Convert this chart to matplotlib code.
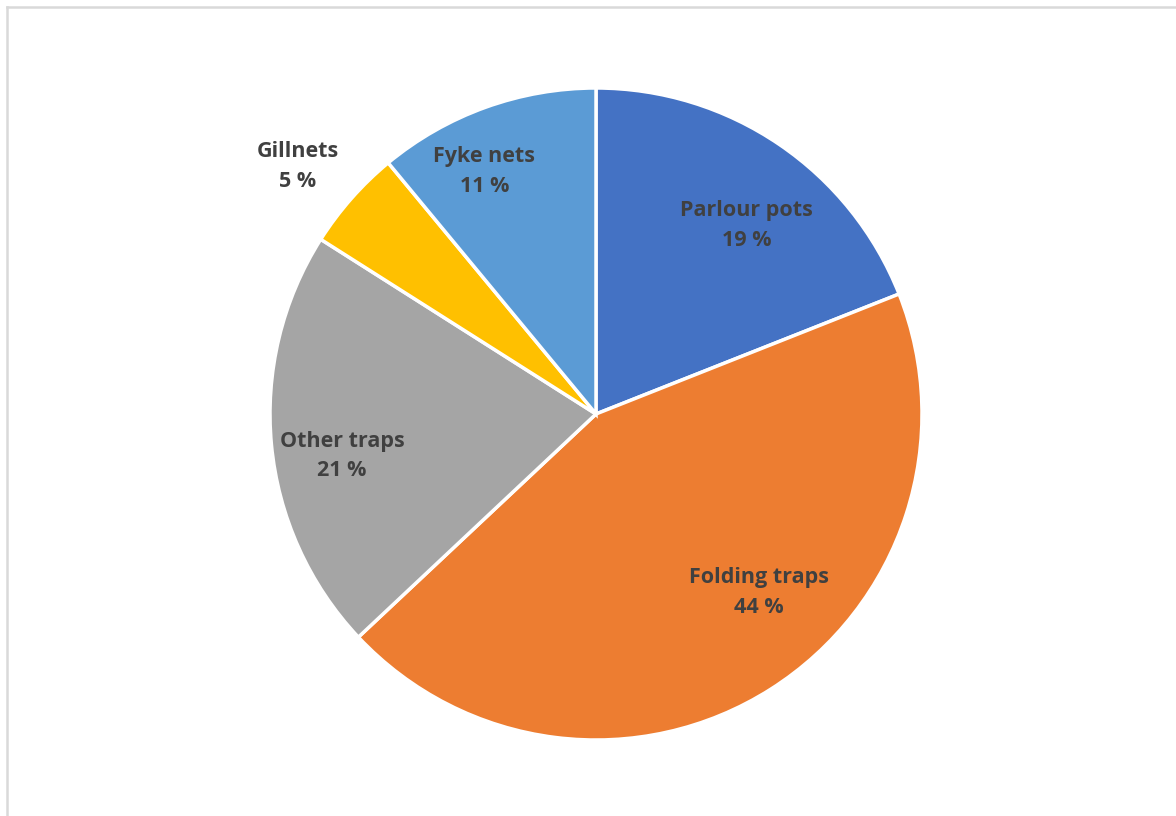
import numpy as np
import matplotlib.pyplot as plt
from matplotlib.lines import Line2D

# Share of catch by gear type
gears = ['Parlour pots', 'Folding traps', 'Other traps', 'Gillnets', 'Fyke nets']
shares = [19, 44, 21, 5, 11]
colors = ['#4472C4', '#ED7D31', '#A5A5A5', '#FFC000', '#5B9BD5']

# label placement (fraction of radius, angular nudge in degrees)
label_r = [0.74, 0.74, 0.79, 1.19, 0.82]
label_dt = [-4.4, 10.0, 4.0, 1.7, 4.9]

W, H = 1176, 816
fig = plt.figure(figsize=(W / 100, H / 100), dpi=100)
ax = fig.add_axes([0, 0, 1, 1])
ax.set_xlim(0, W)
ax.set_ylim(0, H)
ax.axis('off')

cx, cy, R = 596, H - 414, 326
wedges, _ = ax.pie(shares, colors=colors, startangle=90, counterclock=False,
                   center=(cx, cy), radius=R,
                   wedgeprops=dict(edgecolor='white', linewidth=2.5))
ax.set_xlim(0, W)
ax.set_ylim(0, H)
ax.set_aspect('equal')

for w, name, val, rf, dt in zip(wedges, gears, shares, label_r, label_dt):
    ang = np.deg2rad((w.theta1 + w.theta2) / 2 + dt)
    x = cx + rf * R * np.cos(ang)
    y = cy + rf * R * np.sin(ang)
    ax.text(x, y, f'{name}\n{val} %', ha='center', va='center',
            fontsize=15.5, fontweight='bold', color='#404040',
            family='Open Sans', linespacing=1.55)

# chart area frame
fig.add_artist(Line2D([7, 7], [0, H - 7], transform=None, color='#D9D9D9', lw=1.8))
fig.add_artist(Line2D([7, W], [H - 7, H - 7], transform=None, color='#D9D9D9', lw=1.8))

fig.savefig('out.png', dpi=100)
